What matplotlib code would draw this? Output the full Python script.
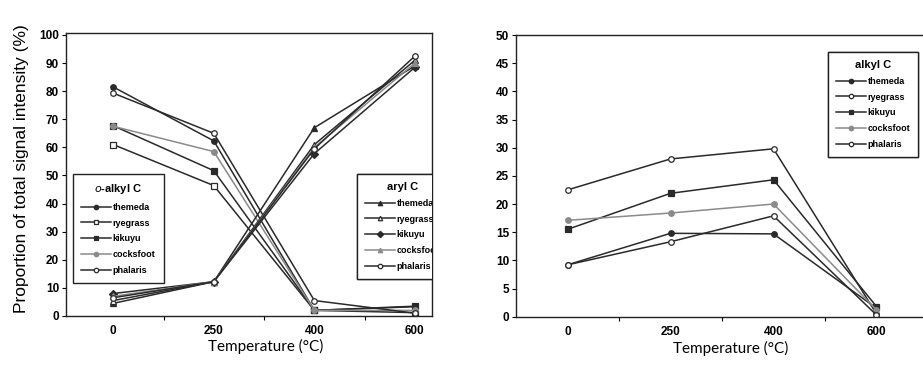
import matplotlib
matplotlib.use("Agg")
import matplotlib.pyplot as plt
import numpy as np

temps = ['0', '250', '400', '600']
species = ['themeda', 'ryegrass', 'kikuyu', 'cocksfoot', 'phalaris']

# o-alkyl C (left panel)
oalkyl_themeda = [81.5, 62.3, 2.0, 3.3]
oalkyl_ryegrass = [61.0, 46.4, 2.0, 1.2]
oalkyl_kikuyu = [67.7, 51.7, 2.0, 3.5]
oalkyl_cocksfoot = [67.5, 58.5, 2.0, 2.0]
oalkyl_phalaris = [79.3, 65.0, 5.5, 1.0]

# aryl C (left panel)
aryl_themeda = [4.5, 12.2, 67.0, 89.0]
aryl_ryegrass = [5.5, 12.2, 61.0, 91.0]
aryl_kikuyu = [8.0, 12.2, 57.8, 88.5]
aryl_cocksfoot = [7.0, 12.2, 60.0, 90.0]
aryl_phalaris = [6.5, 12.2, 59.5, 92.5]

# alkyl C (right panel)
alkyl_themeda = [9.2, 14.8, 14.7, 1.5]
alkyl_ryegrass = [22.5, 28.0, 29.8, 0.5]
alkyl_kikuyu = [15.5, 21.9, 24.3, 1.8]
alkyl_cocksfoot = [17.1, 18.4, 20.0, 1.2]
alkyl_phalaris = [9.2, 13.3, 17.9, 0.3]

dark = '#2a2a2a'
grey = '#8a8a8a'

oalkyl_style = [('o', dark, dark), ('s', 'white', dark), ('s', dark, dark),
                ('o', grey, grey), ('o', 'white', dark)]
aryl_style = [('^', dark, dark), ('^', 'white', dark), ('D', dark, dark),
              ('^', grey, grey), ('o', 'white', dark)]
alkyl_style = [('o', dark, dark), ('o', 'white', dark), ('s', dark, dark),
               ('o', grey, grey), ('o', 'white', dark)]

fig = plt.figure(figsize=(9.23, 3.65), dpi=100)
W, H = 923.0, 365.0
ax1 = fig.add_axes([66 / W, (H - 316) / H, 366 / W, 283 / H])
ax2 = fig.add_axes([516 / W, (H - 316.7) / H, 412 / W, 281.7 / H])

x = np.arange(len(temps))


def draw(ax, series, styles):
    lines = []
    for vals, (m, fc, ec) in zip(series, styles):
        ln, = ax.plot(x, vals, color=ec, lw=1.1, marker=m, ms=4,
                      markerfacecolor=fc, markeredgecolor=ec, mew=0.9)
        lines.append(ln)
    return lines


l_oalk = draw(ax1, [oalkyl_themeda, oalkyl_ryegrass, oalkyl_kikuyu,
                    oalkyl_cocksfoot, oalkyl_phalaris], oalkyl_style)
l_aryl = draw(ax1, [aryl_themeda, aryl_ryegrass, aryl_kikuyu,
                    aryl_cocksfoot, aryl_phalaris], aryl_style)
l_alk = draw(ax2, [alkyl_themeda, alkyl_ryegrass, alkyl_kikuyu,
                   alkyl_cocksfoot, alkyl_phalaris], alkyl_style)

tickfont = dict(family='Liberation Sans', weight='bold', size=8.5)

for ax, ymax, step in [(ax1, 100, 10), (ax2, 50, 5)]:
    ax.set_ylim(0, ymax * 1.007 if ax is ax1 else ymax)
    ax.set_yticks(np.arange(0, ymax + 1, step))
    ax.set_yticklabels([str(v) for v in range(0, ymax + 1, step)], fontdict=tickfont)
    ax.set_xticks(x)
    ax.set_xticklabels(temps, fontdict=tickfont)
    ax.set_xticks(x[:-1] + 0.5, minor=True)
    ax.tick_params(axis='x', which='major', length=0, pad=6.5)
    ax.tick_params(axis='x', which='minor', length=3, direction='out', width=0.8)
    ax.tick_params(axis='y', length=3, width=0.8, pad=2)
    for s in ax.spines.values():
        s.set_linewidth(1.0)
        s.set_color('#222222')
    ax.set_xlabel('Temperature (°C)', family='Lato', size=11)

ax1.set_xlim(-0.47, 3.17)
ax2.set_xlim(-0.5, 3.5)
ax2.spines['right'].set_visible(False)
ax1.xaxis.set_label_coords(0.546, -0.082)
ax2.xaxis.set_label_coords(0.52, -0.085)
ax1.set_ylabel('Proportion of total signal intensity (%)', family='Liberation Sans',
               size=12.5)
ax1.yaxis.set_label_coords(-0.102, 0.52)

legfont = dict(family='Liberation Sans', weight='bold', size=6.5)


def legend(ax, lines, title, anchor, clip=False):
    leg = ax.legend(lines, species, title=title, loc='upper left',
                    bbox_to_anchor=anchor, borderaxespad=0, prop=legfont,
                    title_fontproperties=dict(family='Liberation Sans', weight='bold', size=8),
                    fancybox=False, frameon=True, edgecolor='#222222', framealpha=1,
                    handlelength=3.3, handletextpad=0.2, labelspacing=0.75,
                    borderpad=0.9, markerscale=0.8)
    leg.get_frame().set_linewidth(1.0)
    if clip:
        for a in leg.findobj():
            a.set_clip_on(True)
            a.set_clip_box(ax.bbox)
    ax.add_artist(leg)
    return leg


legend(ax1, l_oalk, r'$\it{o}$-alkyl C', (0.019, 0.502))
legend(ax1, l_aryl, 'aryl C', (0.795, 0.502), clip=True)
legend(ax2, l_alk, 'alkyl C', (0.757, 0.94))

plt.savefig('out.png', dpi=100)
